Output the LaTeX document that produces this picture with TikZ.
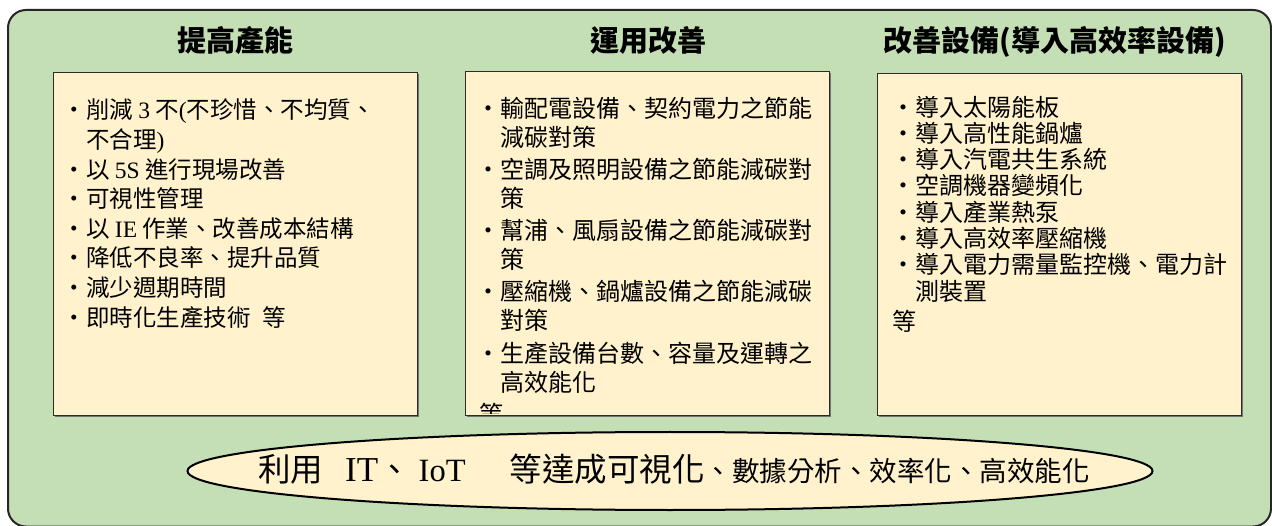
\documentclass[tikz,border=0pt]{standalone}
\usepackage{fontspec}
\setmainfont{Noto Sans CJK TC}
\newfontfamily\tms{Liberation Serif}
\usetikzlibrary{shapes.geometric,shadows}
\definecolor{bggreen}{RGB}{196,223,181}
\definecolor{cream}{RGB}{255,242,204}
\definecolor{edge}{RGB}{45,45,40}
\begin{document}
\begin{tikzpicture}[x=1pt,y=-1pt,
  panel/.style={draw=edge, line width=1.3pt, fill=cream, inner sep=0pt, anchor=north west,
    drop shadow={shadow xshift=1.5pt, shadow yshift=-1.5pt, fill=black!55, opacity=1}},
  head/.style={anchor=base, inner sep=0pt, font=\fontsize{29}{34}\selectfont\bfseries},
  ta/.style={anchor=base west, inner sep=0pt, font=\fontsize{23.5}{28}\selectfont},
  tb/.style={anchor=base west, inner sep=0pt, font=\fontsize{24}{28}\selectfont},
]
\useasboundingbox (0,0) rectangle (1272,526);
\clip (0,0) rectangle (1272,526);
\fill[white] (0,0) rectangle (1272,526);
\draw[fill=bggreen, draw=black!85, line width=2pt, rounded corners=18pt] (8,10) rectangle (1271,526.5);

% headings
\node[head] (hL) at (235,52) {提高產能};
\node[head] (hM) at (648,52) {運用改善};
\node[head] (hR) at (1055,52) {改善設備(導入高效率設備)};

% panels
\node[panel, minimum width=364pt, minimum height=343pt] (boxL) at (53,72) {};
\node[panel, minimum width=364pt, minimum height=344pt] (boxM) at (465,71) {};
\node[panel, minimum width=364pt, minimum height=342pt] (boxR) at (877,73) {};

% left panel text
\node[ta] (l1) at (62.5,118.9) {・削減 {\tms 3} 不{\tms (}不珍惜、不均質、};
\node[ta] (l2) at (86,148.5) {不合理{\tms )}};
\node[ta] (l3) at (62.5,178.1) {・以 {\tms 5S} 進行現場改善};
\node[ta] (l4) at (62.5,207.7) {・可視性管理};
\node[ta] (l5) at (62.5,237.3) {・以 {\tms IE} 作業、改善成本結構};
\node[ta] (l6) at (62.5,266.9) {・降低不良率、提升品質};
\node[ta] (l7) at (62.5,296.5) {・減少週期時間};
\node[ta] (l8) at (62.5,326.1) {・即時化生產技術\hspace{0.5em}等};

% middle panel text
\node[tb] (m1) at (476,117.1) {・輸配電設備、契約電力之節能};
\node[tb] (m2) at (500,146.1) {減碳對策};
\node[tb] (m3) at (476,178.4) {・空調及照明設備之節能減碳對};
\node[tb] (m4) at (500,207.4) {策};
\node[tb] (m5) at (476,239.6) {・幫浦、風扇設備之節能減碳對};
\node[tb] (m6) at (500,268.6) {策};
\node[tb] (m7) at (476,300.9) {・壓縮機、鍋爐設備之節能減碳};
\node[tb] (m8) at (500,329.9) {對策};
\node[tb] (m9) at (476,362.1) {・生產設備台數、容量及運轉之};
\node[tb] (m10) at (500,391.1) {高效能化};
\begin{scope}
\clip (466,72) rectangle (828,414);
\node[tb] (m11) at (479,424) {等};
\end{scope}

% right panel text
\node[tb] (r1) at (891,116.1) {・導入太陽能板};
\node[tb] (r2) at (891,142.4) {・導入高性能鍋爐};
\node[tb] (r3) at (891,168.7) {・導入汽電共生系統};
\node[tb] (r4) at (891,195.0) {・空調機器變頻化};
\node[tb] (r5) at (891,221.3) {・導入產業熱泵};
\node[tb] (r6) at (891,247.6) {・導入高效率壓縮機};
\node[tb] (r7) at (891,273.9) {・導入電力需量監控機、電力計};
\node[tb] (r8) at (915,300.2) {測裝置};
\node[tb] (r9) at (892,330.1) {等};

% bottom ellipse
\node[ellipse, draw=black, line width=2pt, fill=cream, minimum width=965pt, minimum height=78pt, inner sep=0pt] (ell) at (670,471) {};
\node[anchor=base west, inner sep=0pt, font=\fontsize{32.5}{38}\selectfont] (elltext) at (258,481)
  {利用\hspace{22pt}{\tms\fontsize{35}{38}\selectfont IT}、\hspace{8pt}{\tms IoT}\hspace{44pt}等達成可視化{\fontsize{27.5}{32}\selectfont 、數據分析、效率化、高效能化}};
\end{tikzpicture}
\end{document}
